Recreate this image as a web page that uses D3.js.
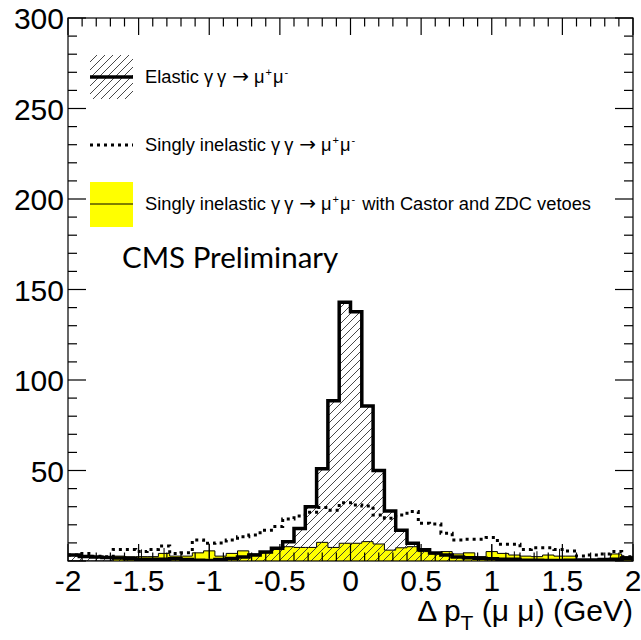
<!DOCTYPE html>
<html lang="en">
<head>
	<meta charset="UTF-8">
	<script src="https://d3js.org/d3.v7.min.js"></script>
	<title>Delta pT of dimuons</title>
	<style>
		body { margin: 0; background: #fff; }
	</style>
</head>
<body>
    <div id="chart"></div>
    <script>
        // histogram binning: 50 bins from -2 to 2 GeV
        var xLow = -2, binWidth = 0.08;

        // elastic gamma gamma -> mu mu (hatched, thick line)
        var elastic = [3.3, 2.5, 2.2, 2.0, 1.6, 1.2, 1.0, 1.0, 1.0, 1.2, 0.8, 0.4, 0.3, 0.8, 1.4,
            2.2, 3.3, 5.0, 7.0, 10.7, 18, 30, 51, 88.6, 143, 137.7, 85.6, 50, 27.6, 17, 9.8, 6.2,
            4.4, 3.3, 2.2, 1.8, 1.5, 1.2, 1.0, 1.0, 0.4, 0.4, 0.3, 0.3, 0.4, 0.5, 0.6, 0.8, 1.0, 1.5];

        // singly inelastic (dotted)
        var inelastic = [3.3, 4.2, 2.6, 2.4, 6.4, 6.4, 5.2, 6.4, 8.3, 4.2, 4.6, 11.6, 9.8, 10.0, 11.6,
            13.4, 14.3, 17, 19, 23.2, 24.9, 26.9, 29.5, 28, 32.2, 31, 30.4, 25.4, 23.6, 25.4, 27.3,
            20.8, 20.4, 15.3, 11.6, 12, 12, 13, 9.2, 9.2, 6.4, 7.3, 7.3, 6.4, 5.5, 2.7, 3.3, 3.9, 5.2, 2.4];

        // singly inelastic with Castor and ZDC vetoes (yellow)
        var vetoed = [0, 0, 0, 0, 2.7, 2.4, 2.4, 2.4, 4.2, 2.7, 2.7, 4.5, 5.6, 2.7, 4.2, 5.6, 3.9,
            4.5, 7, 7.9, 7.5, 7.5, 10.3, 7.5, 9.8, 9.8, 10.7, 9.4, 6, 7.3, 7.9, 5.2, 3.9, 5.2, 3.9,
            4.5, 2.4, 5.2, 4.2, 3.3, 2.7, 2.4, 3.3, 2.7, 2.7, 0.8, 0.8, 0.8, 3.9, 2.4];
        var vetoedErr = [0, 0, 0, 0, 0, 0, 4, 0, 3, 0, 0, 0, 4, 0, 0, 0, 0, 0, 0, 0, 0, 0, 0, 0, 0,
            0, 0, 0, 0, 0, 0, 0, 0, 0, 0, 0, 0, 4, 0, 2, 0, 3, 0, 4, 0, 0, 0, 0, 0, 0];

        var xTicks = [-2, -1.5, -1, -0.5, 0, 0.5, 1, 1.5, 2];
        var yTicks = [0, 50, 100, 150, 200, 250, 300];

        var legendItems = ["Elastic", "Singly inelastic", "Singly inelastic"];

        var width = 641, height = 640;
        var pLeft = 68, pRight = 633, pTop = 18, pBottom = 561;

        const svg = d3.select("#chart").append("svg")
            .attr("width", width).attr("height", height);

        svg.append("rect").attr("width", width).attr("height", height).attr("fill", "#fff");

        var x = d3.scaleLinear().domain([-2, 2]).range([pLeft, pRight]);
        var y = d3.scaleLinear().domain([0, 300]).range([pBottom, pTop]);

        var defs = svg.append("defs");
        var pat = defs.append("pattern").attr("id", "hatch")
            .attr("patternUnits", "userSpaceOnUse").attr("width", 8).attr("height", 8);
        pat.append("path").attr("d", "M-1,1 l2,-2 M0,8 l8,-8 M7,9 l2,-2")
            .attr("stroke", "#333").attr("stroke-width", 0.9);
        defs.append("clipPath").attr("id", "plotclip").append("rect")
            .attr("x", pLeft).attr("y", pTop).attr("width", pRight - pLeft).attr("height", pBottom - pTop);

        // turn bin contents into step points
        function steps(vals) {
            var pts = [];
            vals.forEach(function (v, i) {
                var x0 = xLow + i * binWidth;
                pts.push([x0, v]);
                pts.push([x0 + binWidth, v]);
            });
            return pts;
        }

        var line = d3.line().x(d => x(d[0])).y(d => y(d[1]));
        var area = d3.area().x(d => x(d[0])).y0(y(0)).y1(d => y(d[1]));

        var g = svg.append("g").attr("clip-path", "url(#plotclip)");

        // yellow vetoed histogram
        g.append("path").attr("d", area(steps(vetoed)))
            .attr("fill", "#ffff00").attr("stroke", "none");
        g.append("path").attr("d", line(steps(vetoed)))
            .attr("fill", "none").attr("stroke", "#000").attr("stroke-width", 1);

        // elastic hatched
        g.append("path").attr("d", area(steps(elastic)))
            .attr("fill", "url(#hatch)").attr("stroke", "none");

        // error bars on the vetoed histogram
        g.selectAll(".err").data(vetoed).join("line").attr("class", "err")
            .attr("x1", (d, i) => x(xLow + (i + 0.5) * binWidth))
            .attr("x2", (d, i) => x(xLow + (i + 0.5) * binWidth))
            .attr("y1", (d, i) => y(Math.max(0, d - vetoedErr[i])))
            .attr("y2", (d, i) => y(d + vetoedErr[i]))
            .attr("stroke", "#000").attr("stroke-width", 1);

        g.append("path").attr("d", line(steps(elastic)))
            .attr("fill", "none").attr("stroke", "#000").attr("stroke-width", 3.5);

        g.append("path").attr("d", line(steps(inelastic)))
            .attr("fill", "none").attr("stroke", "#000").attr("stroke-width", 3)
            .attr("stroke-dasharray", "3,4");

        // frame
        svg.append("rect").attr("x", pLeft).attr("y", pTop)
            .attr("width", pRight - pLeft).attr("height", pBottom - pTop)
            .attr("fill", "none").attr("stroke", "#000").attr("stroke-width", 1.2);

        // axes with ROOT-style inward ticks
        var xMinor = d3.range(-2, 2.001, 0.1);
        var yMinor = d3.range(0, 300.1, 10);
        var ticks = svg.append("g").attr("stroke", "#000").attr("stroke-width", 1.2);
        xMinor.forEach(function (v) {
            var major = xTicks.some(t => Math.abs(t - v) < 1e-6);
            var len = major ? 17 : 8.5;
            ticks.append("line").attr("x1", x(v)).attr("x2", x(v)).attr("y1", pBottom).attr("y2", pBottom - len);
            ticks.append("line").attr("x1", x(v)).attr("x2", x(v)).attr("y1", pTop).attr("y2", pTop + len);
        });
        yMinor.forEach(function (v) {
            var major = yTicks.indexOf(Math.round(v)) >= 0;
            var len = major ? 18 : 9;
            ticks.append("line").attr("x1", pLeft).attr("x2", pLeft + len).attr("y1", y(v)).attr("y2", y(v));
            ticks.append("line").attr("x1", pRight).attr("x2", pRight - len).attr("y1", y(v)).attr("y2", y(v));
        });

        var font = "'Liberation Sans', Arial, sans-serif";
        svg.append("g").selectAll("text").data(xTicks).join("text")
            .attr("x", d => x(d)).attr("y", 591)
            .attr("text-anchor", "middle")
            .attr("font-family", font).attr("font-size", 30)
            .text(d => d);
        svg.append("g").selectAll("text").data(yTicks.filter(d => d > 0)).join("text")
            .attr("x", 64).attr("y", d => y(d) + 11)
            .attr("text-anchor", "end")
            .attr("font-family", font).attr("font-size", 30)
            .text(d => d);

        // x axis title
        var xt = svg.append("text").attr("x", pRight).attr("y", 621)
            .attr("text-anchor", "end").attr("font-family", font).attr("font-size", 30);
        xt.append("tspan").text("\u0394 p");
        xt.append("tspan").attr("font-size", 21).attr("dy", 9).text("T");
        xt.append("tspan").attr("dy", -9).text(" (\u03bc \u03bc) (GeV)");

        // CMS label
        svg.append("text").attr("x", 122).attr("y", 268)
            .attr("font-family", "Lato, 'Open Sans', sans-serif").attr("font-size", 29.5)
            .text("CMS Preliminary");

        // legend
        var lg = svg.append("g");
        lg.append("rect").attr("x", 90).attr("y", 55).attr("width", 43).attr("height", 44)
            .attr("fill", "url(#hatch)");
        lg.append("line").attr("x1", 90).attr("x2", 133).attr("y1", 77).attr("y2", 77)
            .attr("stroke", "#000").attr("stroke-width", 3.5);
        lg.append("line").attr("x1", 90).attr("x2", 133).attr("y1", 145).attr("y2", 145)
            .attr("stroke", "#000").attr("stroke-width", 3).attr("stroke-dasharray", "3,4");
        lg.append("rect").attr("x", 90).attr("y", 182).attr("width", 43).attr("height", 45)
            .attr("fill", "#ffff00");
        lg.append("line").attr("x1", 90).attr("x2", 133).attr("y1", 204).attr("y2", 204)
            .attr("stroke", "#000").attr("stroke-width", 1);

        var legendY = [77, 145, 204];
        legendItems.forEach(function (name, i) {
            var t = lg.append("text").attr("x", 145).attr("y", legendY[i] + 6)
                .attr("font-family", font).attr("font-size", 18.3);
            t.append("tspan").text(name + " \u03b3");
            t.append("tspan").attr("dx", 4).text("\u03b3");
            t.append("tspan").attr("dx", 6).attr("font-family", "'DejaVu Sans', sans-serif")
                .attr("font-size", 20).text("\u2192");
            t.append("tspan").attr("dx", 5).text("\u03bc");
            t.append("tspan").attr("dx", 1).attr("font-size", 11).attr("dy", -7).text("+");
            t.append("tspan").attr("dx", 1).attr("dy", 7).text("\u03bc");
            t.append("tspan").attr("dx", 1).attr("font-size", 11).attr("dy", -7).text("-");
            if (i == 2) t.append("tspan").attr("dx", 2).attr("dy", 7).text(" with Castor and ZDC vetoes");
        });
    </script>
</body>
</html>
